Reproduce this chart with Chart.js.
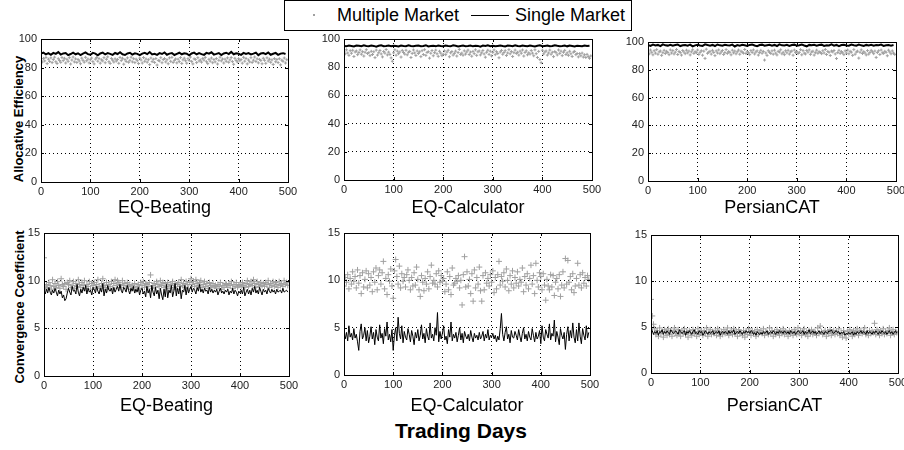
<!DOCTYPE html>
<html>
<head>
<meta charset="utf-8">
<script src="https://cdn.jsdelivr.net/npm/chart.js@4.4.1/dist/chart.umd.min.js"></script>
<style>
  body { margin: 0; width: 904px; height: 450px; background: #fff; position: relative; overflow: hidden;
         font-family: "Liberation Sans", Arial, sans-serif; color: #000; }
  canvas { position: absolute; }
  .title { position: absolute; font-size: 18px; line-height: 18px; white-space: nowrap; transform: translateX(-50%); }
  .ylab { position: absolute; font-size: 13px; font-weight: bold; white-space: nowrap;
          transform: translate(-50%, -50%) rotate(-90deg); }
  #legend { position: absolute; left: 284px; top: 0; width: 346px; height: 29px; border: 1px solid #000; background: #fff; }
  #legend span { position: absolute; }
  .ltext { font-size: 18px; line-height: 29px; top: 0; white-space: nowrap; }
</style>
</head>
<body>

<div id="legend">
  <span style="left:28px;top:13px;width:2px;height:2px;background:#a0a0a0"></span>
  <span class="ltext" style="left:52px">Multiple Market</span>
  <span style="left:186px;top:14px;width:38px;height:1px;background:#000"></span>
  <span class="ltext" style="left:230px">Single Market</span>
</div>

<div class="ylab" style="left:18px;top:119px">Allocative Efficiency</div>
<div class="ylab" style="left:19px;top:307px">Convergence Coefficient</div>
<div class="title" style="left:461px;top:420px;font-size:21px;line-height:21px;font-weight:bold">Trading Days</div>

<script>
// ---- data: every series spans trading days 0..500, sampled evenly ----
const LAST_DAY = 500;
const platforms = ["EQ-Beating", "EQ-Calculator", "PersianCAT"];
const dayTicks = [0, 100, 200, 300, 400, 500];
const effTicks = [0, 20, 40, 60, 80, 100];
const convTicks = [0, 5, 10, 15];

// Allocative efficiency, single market (line, every 5 days)
const beatEffSingle = [
  89.8,90.5,89.2,90.1,88.9,90.3,89.6,90.8,89.1,89.9,
  90.2,88.7,89.5,90.4,89.3,90.0,88.8,89.7,90.6,89.4,
  89.0,90.3,89.8,88.6,89.9,90.5,89.2,90.1,89.6,88.9,
  90.2,89.5,90.7,89.3,88.8,89.9,90.4,89.1,90.0,89.6,
  88.7,89.8,90.3,89.4,90.9,89.2,89.7,88.9,90.1,89.5,
  90.6,89.0,89.8,90.2,88.8,89.6,90.4,89.3,90.0,89.7,
  88.6,89.9,90.5,89.2,90.1,89.4,88.9,90.3,89.8,90.7,
  89.1,89.6,90.2,88.8,89.9,90.4,89.5,91.0,89.3,90.0,
  89.7,88.9,90.3,89.6,90.1,89.2,89.8,90.5,88.7,89.9,
  90.2,89.4,90.6,89.0,89.7,90.3,88.9,89.8,90.1,89.5];
const calcEffSingle = [
  95.1,94.8,95.3,95.0,94.7,95.4,95.2,94.9,95.5,95.0,
  94.8,95.3,95.1,94.6,95.2,95.6,94.9,95.0,95.3,94.8,
  95.2,95.0,94.7,95.4,95.1,94.9,95.5,95.0,94.8,95.2,
  95.3,94.9,95.1,95.6,94.7,95.0,95.2,94.8,95.4,95.1,
  94.9,95.3,95.0,94.8,95.5,95.2,94.7,95.1,95.3,94.9,
  95.0,95.4,94.8,95.2,95.1,94.6,95.3,95.0,95.5,94.9,
  95.2,94.8,95.1,95.4,95.0,94.7,95.3,95.2,94.9,95.6,
  95.0,94.8,95.3,95.1,94.9,95.4,95.0,94.7,95.2,95.5,
  94.9,95.1,95.3,94.8,95.0,95.6,95.2,94.9,95.1,95.4,
  94.8,95.3,95.0,94.7,95.2,95.1,94.9,95.4,95.0,95.2];
const catEffSingle = [
  97.8,97.2,98.1,97.5,97.9,97.0,98.3,97.6,97.4,98.0,
  97.3,97.8,98.2,97.1,97.7,97.9,97.4,98.1,96.9,97.6,
  98.0,97.5,97.2,98.3,97.8,97.4,97.9,97.1,98.2,97.6,
  97.3,98.0,97.7,97.5,98.1,96.8,97.8,97.4,98.0,97.6,
  97.2,97.9,98.2,97.5,97.0,97.8,98.1,97.3,97.7,98.0,
  97.4,97.9,97.1,98.3,97.6,97.5,98.0,97.2,97.8,98.1,
  97.3,97.7,98.2,97.5,96.9,97.9,97.6,98.0,97.4,97.8,
  98.1,97.2,97.7,97.5,98.3,97.4,97.9,97.0,97.8,98.0,
  97.5,97.3,98.1,97.7,97.4,98.2,97.6,97.1,97.9,97.5,
  98.0,97.3,97.8,97.6,98.1,97.2,97.7,97.9,97.4,97.8];

// Allocative efficiency, multiple market (dots, every 2.5 days)
const beatEffMulti = [
  85.2,83.9,86.4,84.7,87.1,82.8,85.9,84.3,86.8,83.5,
  85.6,87.3,84.1,82.9,86.2,85.0,83.7,87.0,84.9,86.5,
  83.2,85.8,84.4,86.9,82.5,85.3,87.4,84.0,86.1,83.6,
  85.7,84.6,82.7,86.6,85.1,83.8,87.2,84.8,86.0,83.3,
  85.5,86.7,84.2,82.6,85.9,87.0,84.5,86.3,83.1,85.4,
  84.7,86.9,83.4,85.8,87.5,84.1,82.9,86.4,85.2,83.9,
  86.1,84.6,85.7,83.0,87.1,84.9,86.5,82.4,85.6,84.3,
  86.8,83.7,85.1,87.3,84.0,86.2,83.5,85.9,84.8,82.8,
  86.6,85.3,83.2,87.0,84.4,86.0,83.8,85.5,82.1,86.7,
  84.2,85.8,83.6,86.3,81.8,85.0,84.7,86.9,83.4,85.6,
  86.3,84.0,85.5,82.7,86.8,84.4,87.2,83.6,85.1,86.0,
  83.3,85.9,84.2,87.0,82.9,85.4,86.6,84.8,83.1,86.2,
  85.0,87.4,84.3,82.6,86.1,85.7,83.5,86.9,84.6,85.3,
  83.8,86.4,85.2,87.1,84.1,82.8,85.8,84.5,86.7,83.4,
  85.6,84.0,86.3,82.5,85.1,87.3,84.7,86.0,83.2,85.9,
  84.4,86.8,83.7,85.4,87.0,84.2,82.3,86.5,85.0,83.9,
  86.2,84.8,85.6,83.1,87.2,84.5,86.4,82.6,85.3,84.0,
  86.9,83.6,85.2,87.4,84.3,86.1,83.3,85.7,84.9,82.7,
  86.5,85.1,83.0,86.8,84.6,85.9,83.7,85.4,82.2,86.3,
  84.1,85.7,83.5,86.2,81.9,85.2,84.4,86.7,83.2,85.5];
const calcEffMulti = [
  91.2,89.5,92.3,90.1,88.4,91.7,89.9,92.0,87.6,90.8,
  91.5,88.9,90.4,92.2,89.2,91.0,87.9,90.6,92.4,89.7,
  90.3,88.2,91.3,89.0,90.9,86.8,92.1,88.6,90.3,91.8,
  89.4,87.3,91.1,90.0,92.5,88.7,90.7,89.1,86.6,84.2,
  90.2,92.3,88.5,91.4,89.6,90.8,87.2,91.9,90.4,89.3,
  92.0,88.8,90.6,91.2,86.9,89.8,92.2,90.1,88.3,91.5,
  89.7,90.9,87.5,91.7,89.0,92.4,88.4,90.5,91.0,86.4,
  89.9,91.8,88.1,90.3,92.1,89.5,87.7,91.3,90.0,88.2,
  89.2,91.6,88.9,90.7,92.0,87.4,90.2,91.1,88.6,89.8,
  91.4,87.9,90.4,92.6,89.1,90.0,88.5,91.6,89.3,90.8,
  92.1,89.0,90.7,87.8,91.2,89.6,92.3,88.4,90.9,91.5,
  88.7,90.2,91.8,89.4,87.1,90.6,92.0,89.1,91.3,88.0,
  90.5,92.2,88.9,91.0,89.7,86.7,90.8,91.9,89.2,90.4,
  91.7,88.3,90.1,92.4,89.5,91.1,87.6,90.3,92.1,89.8,
  90.6,88.6,91.4,89.9,92.2,87.9,90.5,91.6,88.8,90.2,
  89.3,91.8,90.0,88.1,92.3,89.6,86.9,91.2,85.4,83.2,
  92.0,89.4,90.8,91.5,88.6,90.1,92.1,89.2,90.6,87.5,
  91.1,90.3,88.7,92.2,89.8,91.4,88.2,90.6,91.9,89.0,
  90.2,88.4,91.3,89.5,87.6,90.7,91.2,88.9,89.7,87.3,
  89.6,88.1,90.0,87.2,88.8,86.9,89.1,87.5,86.3,88.0];
const catEffMulti = [
  93.1,91.5,94.2,92.6,90.8,93.7,92.0,94.5,91.2,92.9,
  93.5,90.4,92.3,94.0,91.7,93.3,92.5,90.9,94.3,92.1,
  93.8,91.4,92.7,94.6,91.0,93.2,92.4,90.6,93.9,92.8,
  91.6,94.1,92.2,93.5,90.7,92.9,94.4,91.8,93.0,92.3,
  94.2,91.1,92.6,93.7,90.5,93.4,88.2,94.8,91.9,92.7,
  93.3,91.3,94.0,92.5,90.2,93.6,92.1,94.3,91.6,92.8,
  93.9,91.0,92.4,94.5,91.8,93.1,92.6,90.8,94.1,92.2,
  93.5,91.5,92.9,94.2,91.2,93.4,92.7,92.0,94.6,91.7,
  93.0,92.3,90.9,93.8,92.5,94.3,91.4,92.8,93.6,90.6,
  92.4,94.0,91.9,93.2,87.0,92.1,90.4,93.7,92.6,91.8,
  93.6,91.2,94.1,92.0,90.7,93.3,92.8,94.4,91.5,92.6,
  90.9,93.7,92.2,94.0,91.3,92.9,93.5,90.5,94.2,92.4,
  93.1,91.7,92.5,94.5,90.8,93.8,92.0,91.4,93.9,92.7,
  94.3,91.1,92.8,93.4,90.6,92.3,94.1,91.9,93.0,92.5,
  91.6,93.7,92.1,94.6,91.0,93.2,92.6,90.3,93.5,92.9,
  93.9,91.4,88.1,92.4,94.0,91.8,93.1,92.2,90.9,93.6,
  92.0,94.2,91.5,93.3,92.7,90.4,94.5,91.2,92.8,93.4,
  88.4,92.6,94.3,91.7,93.0,92.1,90.7,93.8,91.3,92.5,
  94.0,92.9,91.6,93.5,88.9,92.4,93.7,91.0,94.2,92.2,
  91.8,93.3,92.6,90.1,94.1,92.8,91.5,93.6,92.0,91.1];

// Convergence coefficient, single market (line, every 2.5 days)
const beatConvSingle = [
  8.9,8.6,9.1,8.7,9.3,8.8,8.5,9.0,8.7,9.2,
  8.8,8.4,9.0,8.6,8.9,8.2,8.5,7.9,8.1,8.7,
  9.2,8.8,8.5,9.4,8.9,9.0,8.6,9.6,8.8,8.4,
  9.1,8.7,9.3,8.9,9.5,8.6,9.2,8.8,9.0,8.5,
  9.3,9.1,8.7,9.4,8.9,8.6,9.2,8.8,9.7,8.4,
  9.1,8.7,9.5,9.0,8.9,9.2,8.6,9.3,8.8,9.1,
  9.4,8.9,9.6,9.0,8.7,9.3,9.1,8.8,9.5,9.0,
  8.6,9.2,8.9,9.4,8.7,9.1,8.8,9.3,8.5,9.0,
  9.2,8.6,8.9,8.3,9.4,8.7,9.1,8.2,9.5,8.8,
  8.4,9.3,8.6,9.0,8.1,9.2,8.5,8.0,9.1,8.3,
  9.6,8.2,9.0,8.7,9.5,8.3,8.9,9.7,8.4,9.2,
  8.6,9.4,8.1,9.0,8.8,9.5,8.5,9.3,8.7,9.1,
  9.4,8.8,9.2,9.0,8.6,9.3,8.9,9.6,8.8,9.1,
  8.7,9.2,8.9,9.0,8.6,9.3,8.8,9.1,8.7,9.0,
  8.8,9.1,8.5,8.9,9.2,8.7,8.9,8.6,9.0,8.8,
  9.1,8.5,8.9,8.7,9.2,8.6,9.0,8.8,8.4,8.9,
  8.7,9.0,8.6,9.3,8.4,8.8,9.1,8.6,9.0,8.5,
  9.2,8.8,9.4,8.7,9.0,8.6,9.3,8.9,8.5,9.1,
  8.8,9.0,8.6,9.2,8.9,8.7,9.1,8.8,9.0,8.6,
  9.1,8.8,8.9,9.0,8.7,9.2,8.8,8.9,9.0,8.8];
const calcConvSingle = [
  4.1,3.8,4.5,3.6,5.2,4.0,4.4,3.7,4.9,3.9,
  4.3,3.5,2.6,4.6,5.4,3.8,4.2,5.0,3.6,4.7,
  3.4,4.1,5.1,3.8,4.5,3.2,4.8,4.0,3.6,5.3,
  3.9,4.4,3.3,4.9,4.1,5.6,3.7,4.3,3.5,4.8,
  2.6,4.2,5.0,3.6,6.1,4.4,3.8,5.2,3.4,4.6,
  4.0,3.7,4.9,4.3,3.5,4.7,4.1,3.2,4.5,3.9,
  4.8,3.6,4.2,5.3,3.8,4.4,3.4,4.9,4.1,3.7,
  5.5,3.9,4.3,3.6,5.0,4.2,6.6,3.5,4.6,3.8,
  4.4,5.2,3.7,4.1,3.3,4.8,4.0,5.6,3.6,4.3,
  3.9,4.5,3.5,4.2,5.0,3.7,4.4,3.4,4.6,4.1,
  3.8,4.3,3.6,4.7,4.0,3.5,4.4,3.9,4.2,3.7,
  4.5,3.8,4.1,4.6,3.6,4.3,3.9,4.8,3.7,4.2,
  4.0,4.4,3.8,4.2,3.5,4.1,3.7,4.9,6.5,4.3,
  3.6,4.5,5.1,3.8,4.3,3.4,4.7,4.0,3.9,4.6,
  4.2,3.7,4.8,4.1,3.5,4.4,5.0,3.8,4.3,3.6,
  4.6,4.0,3.7,4.9,4.2,3.5,4.5,3.8,4.1,4.7,
  3.3,5.2,4.0,3.6,4.8,4.3,3.9,5.4,3.7,4.4,
  4.1,5.8,3.5,4.6,4.0,3.2,4.9,4.2,3.8,4.5,
  2.7,4.3,5.1,3.6,4.7,3.9,5.5,4.0,3.4,4.8,
  3.6,5.5,4.1,3.3,4.9,4.2,3.7,5.2,3.9,4.5];
const catConvSingle = [
  5.0,4.6,4.2,4.5,4.3,4.6,4.1,4.5,4.4,4.7,
  4.2,4.5,4.3,4.6,4.4,4.2,4.7,4.5,4.3,4.4,
  4.6,4.4,4.2,4.7,4.5,4.3,4.4,4.6,4.1,4.5,
  4.3,4.6,4.4,4.2,4.5,4.7,4.3,4.4,4.2,4.6,
  4.4,4.5,4.1,4.3,4.6,4.4,4.2,4.5,4.3,4.4,
  4.6,4.2,4.4,4.5,4.3,4.6,4.1,4.4,4.5,4.3,
  4.5,4.4,4.2,4.6,4.3,4.5,4.4,4.7,4.2,4.4,
  4.5,4.3,4.6,4.4,4.2,4.5,4.3,4.6,4.4,4.5,
  4.3,4.6,4.5,4.2,4.4,4.1,4.5,4.3,4.2,4.4,
  4.2,4.5,4.3,4.4,4.6,4.2,4.4,4.5,4.3,4.6,
  4.4,4.2,4.5,4.3,4.6,4.4,4.5,4.3,4.6,4.4,
  4.3,4.5,4.2,4.6,4.4,4.3,4.5,4.2,4.4,4.6,
  4.5,4.3,4.4,4.6,4.2,4.5,4.3,4.4,4.7,4.3,
  4.4,4.6,4.3,4.5,4.2,4.4,4.6,4.3,4.5,4.4,
  4.2,4.5,4.4,4.3,4.6,4.5,4.7,4.4,4.3,4.5,
  4.6,4.4,4.5,4.2,4.4,4.3,4.5,4.1,4.3,4.2,
  4.4,4.2,4.3,4.5,4.1,4.4,4.2,4.5,4.3,4.4,
  4.6,4.3,4.5,4.4,4.2,4.6,4.3,4.5,4.4,4.2,
  4.5,4.3,4.6,4.4,4.2,4.5,4.3,4.6,4.4,4.3,
  4.5,4.2,4.4,4.6,4.3,4.5,4.2,4.4,4.6,4.3];

// Convergence coefficient, multiple market (crosses, every 2.5 days)
const beatConvMulti = [
  12.4,9.3,9.6,9.2,9.8,9.5,9.1,10.1,9.4,9.7,
  9.3,9.9,9.5,9.2,10.2,9.6,9.4,9.7,9.1,9.8,
  9.6,10.0,9.3,9.5,9.9,9.2,9.7,9.4,10.1,9.6,
  9.3,9.8,9.5,10.0,9.2,9.6,9.4,9.9,9.1,9.7,
  9.5,9.8,9.3,9.6,10.1,9.4,9.2,9.7,10.2,9.5,
  9.3,9.8,9.1,9.6,9.4,9.9,9.2,9.7,10.1,9.5,
  10.0,9.8,9.6,9.3,10.0,9.5,9.7,9.2,9.8,9.4,
  9.6,9.1,9.5,9.3,9.7,9.0,9.4,9.6,9.2,9.8,
  9.5,9.9,9.3,9.7,9.6,9.4,9.8,10.6,9.2,9.5,
  9.7,9.3,9.9,9.6,9.4,10.0,9.5,9.8,9.3,9.7,
  9.4,9.8,9.2,9.6,9.5,9.9,9.3,9.7,9.1,9.6,
  9.8,9.4,10.1,9.5,9.7,9.3,9.9,9.6,9.2,9.8,
  10.2,9.6,9.9,9.4,10.1,9.7,9.5,9.8,10.0,9.3,
  9.6,9.9,9.4,9.7,9.2,9.8,9.5,9.3,9.7,9.4,
  9.5,9.2,9.6,9.4,9.8,9.1,9.5,9.3,9.7,9.6,
  9.3,9.7,9.5,9.9,9.2,9.6,9.4,9.8,9.3,9.5,
  9.6,9.4,9.8,9.5,9.3,9.7,10.0,9.4,9.6,9.9,
  9.5,10.1,9.7,9.3,9.9,9.6,9.4,9.8,9.5,9.7,
  9.4,9.8,9.6,10.0,9.3,9.7,9.5,9.9,9.4,9.8,
  9.6,9.3,9.9,9.5,9.7,9.4,10.0,9.6,9.8,9.5];
const calcConvMulti = [
  9.4,10.3,9.8,10.6,9.1,10.2,9.6,10.9,9.9,10.4,
  9.2,11.1,9.7,10.5,8.6,10.8,9.3,10.1,11.0,9.2,
  10.7,9.5,10.3,8.8,10.9,9.8,11.3,9.0,10.5,11.1,
  9.6,10.8,12.0,9.1,10.2,8.5,10.6,9.9,11.2,9.4,
  8.1,11.0,12.2,10.4,9.6,11.5,9.2,10.7,9.9,10.3,
  9.3,10.6,11.1,10.0,9.0,10.3,9.4,10.8,9.5,11.4,
  10.1,9.0,8.3,10.5,9.8,8.9,10.2,9.6,10.9,9.1,
  10.4,11.6,9.7,10.0,9.6,10.7,9.3,11.0,9.8,10.5,
  9.9,10.2,8.8,9.6,10.9,9.0,10.4,8.5,11.3,9.5,
  9.7,10.2,9.9,10.5,9.2,10.0,7.4,10.6,12.5,9.3,
  10.9,9.4,10.1,8.6,10.7,7.8,11.1,9.2,10.3,9.6,
  11.4,8.9,7.8,10.5,9.0,10.8,9.7,10.2,9.4,10.6,
  9.8,11.0,8.7,10.3,9.1,10.6,12.0,9.5,10.4,9.9,
  10.8,9.3,11.2,10.0,8.9,10.5,9.6,11.0,9.2,10.3,
  9.7,10.9,9.4,10.1,9.8,11.3,8.8,10.4,9.5,10.7,
  9.1,10.2,11.6,9.6,10.5,8.6,11.8,10.0,9.3,10.8,
  10.4,9.0,10.7,9.5,7.9,10.1,9.4,9.0,10.6,9.3,
  10.5,8.4,9.8,10.2,9.1,10.6,8.3,9.5,10.9,9.2,
  12.3,9.6,12.1,9.8,10.4,9.0,10.7,8.7,9.4,10.2,
  11.8,9.5,10.6,9.2,10.8,9.7,10.3,9.4,10.5,10.1];
const catConvMulti = [
  8.0,6.2,5.3,4.8,4.2,4.6,4.0,4.9,4.3,4.5,
  3.9,4.7,4.4,4.1,4.8,4.2,4.6,4.0,4.5,4.9,
  4.3,4.1,4.7,4.4,4.0,4.6,4.3,4.8,4.2,4.5,
  3.9,4.6,4.4,4.1,4.7,4.3,4.5,4.0,4.8,4.2,
  4.4,4.6,4.1,4.5,4.3,4.9,4.0,4.4,4.7,4.2,
  4.5,4.3,4.6,4.1,4.8,4.4,4.0,4.5,4.2,4.7,
  4.3,4.5,4.9,4.1,4.4,4.6,4.2,4.8,4.3,4.5,
  4.0,4.7,4.3,4.4,4.1,4.6,3.9,4.5,4.2,4.8,
  4.4,4.1,4.6,4.3,4.5,4.0,4.7,4.2,4.4,4.6,
  4.3,4.8,4.1,4.5,4.4,4.2,4.9,4.3,4.6,4.0,
  4.5,4.2,4.7,4.4,4.1,4.6,4.3,4.8,4.2,4.5,
  4.4,4.0,4.6,4.3,4.5,4.1,4.7,4.4,4.2,4.9,
  4.3,4.6,4.1,4.5,4.8,4.2,4.4,4.0,4.6,4.3,
  4.7,4.2,4.5,4.4,4.1,4.9,4.3,5.1,4.5,4.2,
  4.4,4.6,4.0,4.5,4.3,4.7,4.1,4.4,4.6,4.2,
  4.5,4.3,4.8,4.1,4.4,3.9,4.6,4.2,3.8,4.5,
  4.3,4.7,4.4,4.0,4.6,4.2,4.5,4.8,4.1,4.4,
  4.6,4.3,4.5,4.9,4.2,4.4,4.1,4.6,4.3,4.5,
  4.4,5.4,4.2,4.7,4.5,4.1,4.6,4.3,4.8,4.2,
  4.5,4.3,4.6,4.9,4.1,4.4,4.7,4.2,4.5,4.4];

// ---- layout ----
const PAGE_W = 904;
const AXIS_W = 40, AXIS_H = 18, PAD_T = 6;
const FONT = '"Liberation Sans", Arial, sans-serif';
const GRAY = '#a0a0a0';

// plot-area boxes (left, top, width, height) in page pixels
const panels = [
  { box: [41, 39, 247, 143], line: beatEffSingle, dots: beatEffMulti, yMax: 100, yTicks: effTicks, r: 1.5, lw: 2, row: 0, col: 0 },
  { box: [344, 39, 248, 141], line: calcEffSingle, dots: calcEffMulti, yMax: 100, yTicks: effTicks, r: 1.5, lw: 2, row: 0, col: 1 },
  { box: [648, 42, 248, 139], line: catEffSingle, dots: catEffMulti, yMax: 100, yTicks: effTicks, r: 1.5, lw: 2, row: 0, col: 2 },
  { box: [44, 233, 245, 143], line: beatConvSingle, dots: beatConvMulti, yMax: 15, yTicks: convTicks, r: 3, lw: 1, row: 1, col: 0 },
  { box: [344, 233, 246, 142], line: calcConvSingle, dots: calcConvMulti, yMax: 15, yTicks: convTicks, r: 3, lw: 1, row: 1, col: 1 },
  { box: [651, 235, 247, 138], line: catConvSingle, dots: catConvMulti, yMax: 15, yTicks: convTicks, r: 3, lw: 1, row: 1, col: 2 },
];
const titleTop = [198, 396];

const toPoints = vals => vals.map((v, i) => ({ x: i * LAST_DAY / vals.length, y: v }));

// solid frame plus small inward tick marks, matlab style
const framePlugin = {
  id: 'frame',
  afterDraw(chart) {
    const { ctx, chartArea: a, scales } = chart;
    ctx.save();
    ctx.strokeStyle = '#000';
    ctx.lineWidth = 1;
    ctx.beginPath();
    scales.x.ticks.forEach(t => {
      const px = Math.round(scales.x.getPixelForValue(t.value)) + 0.5;
      ctx.moveTo(px, a.bottom); ctx.lineTo(px, a.bottom - 3);
      ctx.moveTo(px, a.top); ctx.lineTo(px, a.top + 3);
    });
    scales.y.ticks.forEach(t => {
      const py = Math.round(scales.y.getPixelForValue(t.value)) + 0.5;
      ctx.moveTo(a.left, py); ctx.lineTo(a.left + 3, py);
      ctx.moveTo(a.right, py); ctx.lineTo(a.right - 3, py);
    });
    ctx.stroke();
    ctx.strokeRect(a.left + 0.5, a.top + 0.5, a.right - a.left, a.bottom - a.top);
    ctx.restore();
  }
};

const axisStyle = {
  grid: { color: '#000', lineWidth: 1, drawTicks: false },
  border: { display: false, dash: [1, 3] },
};
const tickStyle = { font: { size: 11, family: FONT }, color: '#222', autoSkip: false, maxRotation: 0 };

panels.forEach(p => {
  const [L, T, W, H] = p.box;
  const padR = Math.min(12, PAGE_W - L - W);
  const cv = document.createElement('canvas');
  cv.width = AXIS_W + W + padR;
  cv.height = PAD_T + H + AXIS_H;
  cv.style.left = (L - AXIS_W) + 'px';
  cv.style.top = (T - PAD_T) + 'px';
  document.body.appendChild(cv);

  const t = document.createElement('div');
  t.className = 'title';
  t.textContent = platforms[p.col];
  t.style.left = (L + W / 2) + 'px';
  t.style.top = titleTop[p.row] + 'px';
  document.body.appendChild(t);

  new Chart(cv, {
    type: 'line',
    data: {
      datasets: [
        { label: 'Single Market', data: toPoints(p.line), borderColor: '#000', borderWidth: p.lw,
          pointRadius: 0, tension: 0, fill: false },
        { label: 'Multiple Market', data: toPoints(p.dots), showLine: false, pointStyle: 'cross',
          pointRadius: p.r, borderColor: GRAY, backgroundColor: GRAY, pointBorderWidth: 1 },
      ]
    },
    options: {
      responsive: false, animation: false, events: [],
      layout: { padding: { left: 0, top: PAD_T, right: padR, bottom: 0 } },
      plugins: { legend: { display: false }, tooltip: { enabled: false } },
      scales: {
        x: {
          type: 'linear', min: 0, max: LAST_DAY, ...axisStyle,
          ticks: { ...tickStyle, padding: 3 },
          afterBuildTicks: s => { s.ticks = dayTicks.map(v => ({ value: v })); },
          afterFit: s => { s.height = AXIS_H; s.paddingLeft = 0; s.paddingRight = 0; },
        },
        y: {
          type: 'linear', min: 0, max: p.yMax, ...axisStyle,
          ticks: { ...tickStyle, padding: 4 },
          afterBuildTicks: s => { s.ticks = p.yTicks.map(v => ({ value: v })); },
          afterFit: s => { s.width = AXIS_W; s.paddingTop = 0; s.paddingBottom = 0; },
        }
      }
    },
    plugins: [framePlugin]
  });
});
</script>
</body>
</html>
